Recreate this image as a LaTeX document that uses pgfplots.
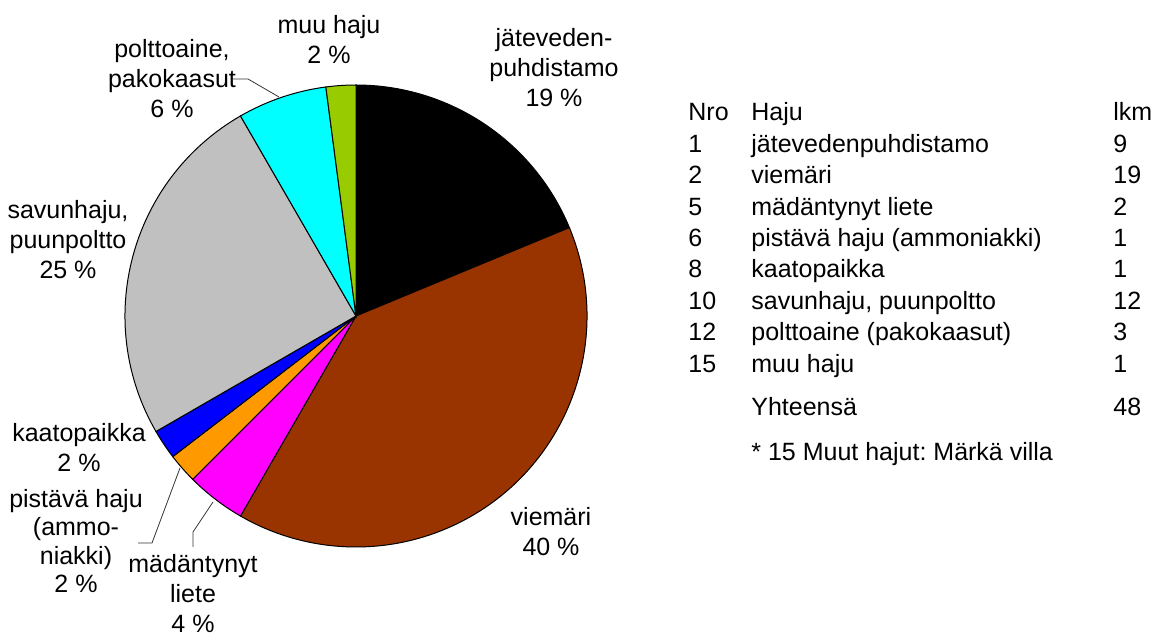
\documentclass[border=0pt]{standalone}
\usepackage{pgfplots}
\pgfplotsset{compat=1.18}
\usepackage{fontspec}
\setmainfont{Liberation Sans}
\frenchspacing
\definecolor{cBrown}{HTML}{993300}
\definecolor{cMag}{HTML}{FF00FF}
\definecolor{cOrange}{HTML}{FF9900}
\definecolor{cBlue}{HTML}{0000FF}
\definecolor{cGray}{HTML}{C0C0C0}
\definecolor{cCyan}{HTML}{00FFFF}
\definecolor{cLime}{HTML}{99CC00}
\tikzset{
  lbl/.style={align=center, font=\fontsize{12.5}{15}\selectfont, inner sep=0pt},
  tab/.style={anchor=base west, font=\fontsize{12.5}{15}\selectfont, inner sep=0pt},
  lead/.style={draw=black!80, line width=0.4pt},
}
\begin{document}
\begin{tikzpicture}
\begin{axis}[scale only axis, width=576.5pt, height=318pt,
  xmin=0, xmax=1153, ymin=0, ymax=636, y dir=reverse,
  hide axis, clip=false]
\addplot[draw=none] coordinates {(0,0) (1153,636)};
% slices, clockwise from 12 o'clock, counts out of 48
\def\angA{90}
\foreach \n/\c in {9/black,19/cBrown,2/cMag,1/cOrange,1/cBlue,12/cGray,3/cCyan,1/cLime}{
  \pgfmathsetmacro{\angB}{\angA-\n*360/48}
  \edef\temp{\noexpand\filldraw[fill=\c, draw=black, line width=0.5pt]
    (axis cs:356,316) -- ++(\angA:115.5pt)
    arc[start angle=\angA, end angle=\angB, radius=115.5pt] -- cycle;}
  \temp
  \xdef\angA{\angB}
}
% leader lines
\draw[lead] (axis cs:233,79) -- (axis cs:248,79) -- (axis cs:279,97);
\draw[lead] (axis cs:138,543) -- (axis cs:152,543) -- (axis cs:180,468);
\draw[lead] (axis cs:193,547) -- (axis cs:193,532) -- (axis cs:213,502);
% slice labels
\node[lbl] at (axis cs:329,40) {muu haju\\2 \%};
\node[lbl] at (axis cs:554,68) {jäteveden-\\puhdistamo\\19 \%};
\node[lbl] at (axis cs:172,79) {polttoaine,\\pakokaasut\\6 \%};
\node[lbl] at (axis cs:68,240) {savunhaju,\\puunpoltto\\25 \%};
\node[lbl] at (axis cs:79,448) {kaatopaikka\\2 \%};
\node[lbl, font=\fontsize{12.5}{14.3}\selectfont] at (axis cs:76,541) {pistävä haju\\(ammo-\\niakki)\\2 \%};
\node[lbl] at (axis cs:193,594) {mädäntynyt\\liete\\4 \%};
\node[lbl] at (axis cs:551,532) {viemäri\\40 \%};
% table
\node[tab] at (axis cs:688,121) {Nro};
\node[tab] at (axis cs:751,121) {Haju};
\node[tab] at (axis cs:1113,121) {lkm};
\foreach \r/\nro/\haju/\lkm in {
  1/1/jätevedenpuhdistamo/9,
  2/2/viemäri/19,
  3/5/mädäntynyt liete/2,
  4/6/pistävä haju (ammoniakki)/1,
  5/8/kaatopaikka/1,
  6/10/{savunhaju, puunpoltto}/12,
  7/12/polttoaine (pakokaasut)/3,
  8/15/muu haju/1}{
  \pgfmathsetmacro{\yy}{121+31.4*\r}
  \edef\temp{\noexpand\node[tab] at (axis cs:688,\yy) {\nro};
    \noexpand\node[tab] at (axis cs:751,\yy) {\unexpanded\expandafter{\haju}};
    \noexpand\node[tab] at (axis cs:1113,\yy) {\lkm};}
  \temp
}
\node[tab] at (axis cs:751,416) {Yhteensä};
\node[tab] at (axis cs:1113,416) {48};
\node[tab] at (axis cs:751,461) {* 15 Muut hajut: Märkä villa};
\end{axis}
\end{tikzpicture}
\end{document}
